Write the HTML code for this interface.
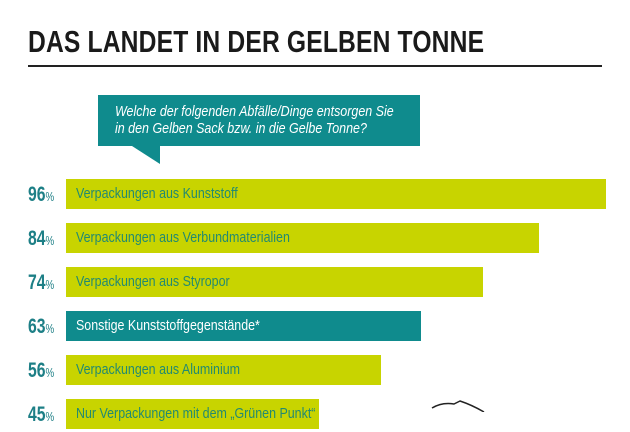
<!DOCTYPE html>
<html><head><meta charset="utf-8"><style>
body{margin:0;width:630px;height:412px;overflow:hidden;background:#fff;font-family:"Liberation Sans",sans-serif;position:relative}
.t{position:absolute;left:28px;top:24px;font-weight:bold;font-size:31px;color:#1a1a1a;transform:scaleX(0.795);transform-origin:0 0;white-space:nowrap;letter-spacing:0.2px}
.rule{position:absolute;left:28px;top:65px;width:574px;height:2px;background:#222}
.bub{position:absolute;left:98px;top:95px;width:322px;height:51px;background:#0f8b8d}
.bubt{position:absolute;left:115px;top:104px;color:#fff;font-style:italic;font-size:14.5px;line-height:17px;transform:scaleX(0.86);transform-origin:0 0;white-space:nowrap}
.bar{position:absolute;height:30px;left:66px}
.lab{position:absolute;left:76px;font-size:15px;transform:scaleX(0.83);transform-origin:0 0;white-space:nowrap;line-height:30px}
.pct{position:absolute;left:28px;font-weight:bold;color:#1d7f86;font-size:21px;transform:scaleX(0.75);transform-origin:0 0;line-height:30px;white-space:nowrap}
.pct small{font-size:13px;font-weight:normal}
</style></head><body>
<div class="t">DAS LANDET IN DER GELBEN TONNE</div>
<div class="rule"></div>
<div class="bub"></div>
<svg style="position:absolute;left:0;top:0" width="630" height="412"><polygon points="132,146 160,146 160,164" fill="#0f8b8d"/>
<path d="M432,408 q10,-6 22,-4 l6,-3 q12,4 24,11" fill="none" stroke="#222" stroke-width="1.5"/></svg>
<div class="bubt">Welche der folgenden Abfälle/Dinge entsorgen Sie<br>in den Gelben Sack bzw. in die Gelbe Tonne?</div>
<div id="chart"></div>
<script>
const categories=["Verpackungen aus Kunststoff","Verpackungen aus Verbundmaterialien","Verpackungen aus Styropor","Sonstige Kunststoffgegenstände*","Verpackungen aus Aluminium","Nur Verpackungen mit dem „Grünen Punkt“"];
const values=[96,84,74,63,56,45];
const highlight=[false,false,false,true,false,false];
const c=document.getElementById('chart');
function x(v){return v*5.63;}
function y(i){return 179+i*44;}
values.forEach((v,i)=>{
 const b=document.createElement('div');b.className='bar';
 
 
 b.style.top=y(i)+'px';b.style.width=x(v)+'px';b.style.background=highlight[i]?'#0f8b8d':'#c8d400';
 c.appendChild(b);
 const l=document.createElement('div');l.className='lab';
 
 
 l.style.top=y(i)+'px';l.style.color=highlight[i]?'#fff':'#238a70';l.textContent=categories[i];
 c.appendChild(l);
 const p=document.createElement('div');p.className='pct';
 
 
 p.style.top=(y(i)+1)+'px';p.innerHTML=v+'<small>%</small>';
 c.appendChild(p);
});
</script>
</body></html>
